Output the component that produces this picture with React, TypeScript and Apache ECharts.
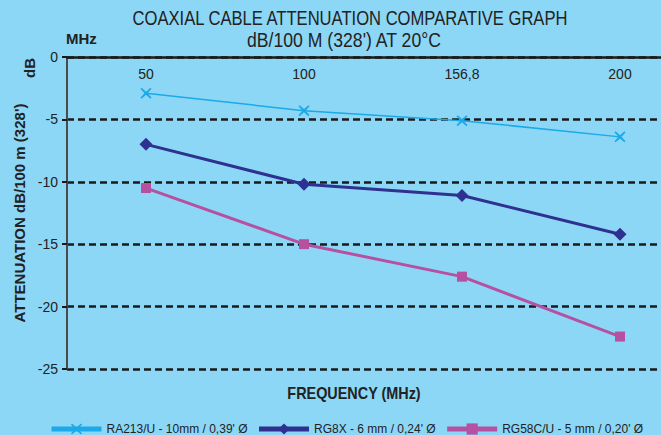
import React, { useEffect, useRef } from "react";
import * as echarts from "echarts";

const frequencies = ["50", "100", "156,8", "200"];
const ra213 = [-2.9, -4.3, -5.1, -6.4];
const rg8x = [-7.0, -10.2, -11.1, -14.2];
const rg58 = [-10.5, -15.0, -17.6, -22.4];
const seriesNames = [
  "RA213/U - 10mm / 0,39' Ø",
  "RG8X - 6 mm / 0,24' Ø",
  "RG58C/U - 5 mm / 0,20' Ø",
];
const titleLines = [
  "COAXIAL CABLE ATTENUATION COMPARATIVE GRAPH",
  "dB/100 M (328') AT 20°C",
];

const FONT = "'Liberation Sans', Arial, sans-serif";
const crossPath =
  "path://M1,0 L5,3.6 L9,0 L10,1 L6.4,5 L10,9 L9,10 L5,6.4 L1,10 L0,9 L3.6,5 L0,1 Z";

export default function App() {
  const ref = useRef<HTMLDivElement>(null);
  useEffect(() => {
    const chart = echarts.init(ref.current!, null, { renderer: "svg" });
    chart.setOption({
      animation: false,
      backgroundColor: "#8dd7f6",
      graphic: [
        {
          type: "text",
          x: 350,
          y: 18,
          scaleX: 0.83,
          style: {
            text: titleLines[0],
            font: `20px ${FONT}`,
            fill: "#222",
            align: "center",
            verticalAlign: "middle",
          },
        },
        {
          type: "text",
          x: 344,
          y: 40,
          scaleX: 0.86,
          style: {
            text: titleLines[1],
            font: `20.5px ${FONT}`,
            fill: "#222",
            align: "center",
            verticalAlign: "middle",
          },
        },
        {
          type: "text",
          x: 66,
          y: 38,
          style: {
            text: "MHz",
            font: `bold 15px ${FONT}`,
            fill: "#222",
            verticalAlign: "middle",
          },
        },
        {
          type: "text",
          x: 22,
          y: 78,
          rotation: Math.PI / 2,
          style: { text: "dB", font: `bold 15px ${FONT}`, fill: "#222" },
        },
        {
          type: "text",
          x: 354,
          y: 393,
          scaleX: 0.9,
          style: {
            text: "FREQUENCY (MHz)",
            font: `bold 16px ${FONT}`,
            fill: "#222",
            align: "center",
            verticalAlign: "middle",
          },
        },
      ],
      legend: {
        top: 418,
        left: 44,
        itemWidth: 50,
        itemHeight: 14,
        itemGap: 9,
        textStyle: { fontFamily: FONT, fontSize: 12, color: "#222" },
        lineStyle: { width: 5 },
        data: seriesNames,
      },
      grid: { left: 67, top: 57, width: 632, bottom: 66 },
      xAxis: {
        type: "category",
        position: "top",
        data: frequencies,
        boundaryGap: true,
        axisLine: { lineStyle: { color: "#1a1a1a", width: 2.5 } },
        axisTick: { inside: true, length: 8, lineStyle: { color: "#1a1a1a", width: 1.5 } },
        axisLabel: {
          inside: true,
          margin: 10,
          fontFamily: FONT,
          fontSize: 14,
          color: "#222",
        },
        splitLine: { show: false },
      },
      yAxis: {
        type: "value",
        min: -25,
        max: 0,
        interval: 5,
        name: "ATTENUATION dB/100 m (328')",
        nameLocation: "middle",
        nameGap: 38,
        nameTextStyle: { fontFamily: FONT, fontSize: 15, fontWeight: "bold", color: "#222" },
        axisLine: { show: true, lineStyle: { color: "#4a4a4a", width: 2 } },
        axisTick: { show: true, length: 5, lineStyle: { color: "#1a1a1a", width: 2 } },
        axisLabel: { fontFamily: FONT, fontSize: 14, color: "#222", margin: 9 },
        splitLine: {
          show: true,
          lineStyle: { color: "#1a1a1a", width: 2.5, type: [7, 4] },
        },
      },
      series: [
        {
          name: seriesNames[0],
          type: "line",
          data: ra213,
          symbol: crossPath,
          symbolSize: 11,
          itemStyle: { color: "#1ba9e8" },
          lineStyle: { color: "#1ba9e8", width: 1.5 },
          z: 5,
        },
        {
          name: seriesNames[1],
          type: "line",
          data: rg8x,
          symbol: "diamond",
          symbolSize: 13,
          itemStyle: { color: "#2e3190" },
          lineStyle: { color: "#2e3190", width: 3 },
          z: 4,
        },
        {
          name: seriesNames[2],
          type: "line",
          data: rg58,
          symbol: "rect",
          symbolSize: 10,
          itemStyle: { color: "#b651a2" },
          lineStyle: { color: "#b651a2", width: 3 },
          z: 3,
        },
      ],
    });
    return () => chart.dispose();
  }, []);
  return (
    <div style={{ position: "absolute", left: 0, top: 0, width: 661, height: 435, overflow: "hidden" }}>
      <div ref={ref} style={{ width: 700, height: 435 }} />
    </div>
  );
}
